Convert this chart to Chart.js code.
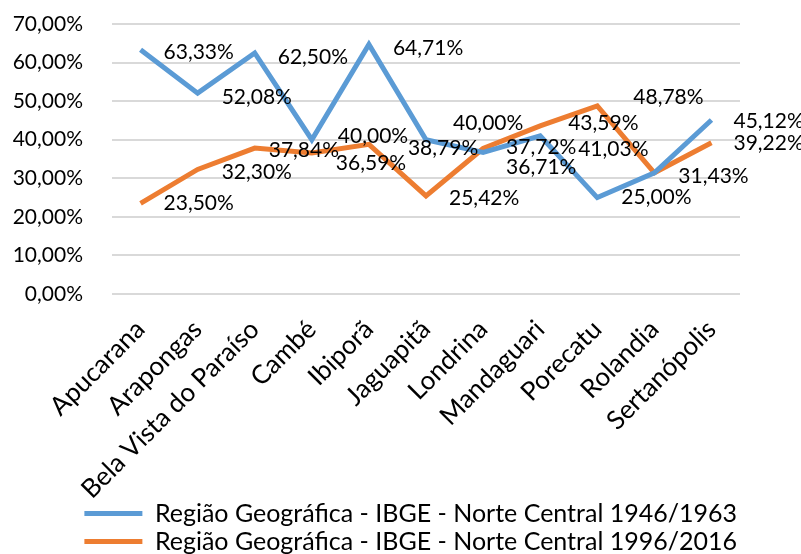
<!DOCTYPE html>
<html>
<head>
<meta charset="utf-8">
<script src="https://cdn.jsdelivr.net/npm/chart.js@4"></script>
<style>
  html, body { margin: 0; padding: 0; background: #fff; }
  #wrap { width: 801px; height: 554px; }
</style>
</head>
<body>
<div id="wrap"><canvas id="chart"></canvas></div>
<script>
// Municípios da Região Norte Central
const municipios = ['Apucarana', 'Arapongas', 'Bela Vista do Paraíso', 'Cambé', 'Ibiporã',
    'Jaguapitã', 'Londrina', 'Mandaguari', 'Porecatu', 'Rolandia', 'Sertanópolis'];

// Percentuais por período
const serie1946 = [63.33, 52.08, 62.50, 40.00, 64.71, 40.00, 36.71, 41.03, 25.00, 31.43, 45.12];
const serie1996 = [23.50, 32.30, 37.84, 36.59, 38.79, 25.42, 37.72, 43.59, 48.78, 31.43, 39.22];

const nomesSeries = [
    'Região Geográfica - IBGE - Norte Central 1946/1963',
    'Região Geográfica - IBGE - Norte Central 1996/2016'
];

const yMin = 0;
const yMax = 70;
const yStep = 10;

const AZUL = '#5b9bd5';
const LARANJA = '#ed7d31';
const FONTE = 'Lato';

// Formato brasileiro: 63,33%
function fmtPct(v) {
    return Number(v).toFixed(2).replace('.', ',') + '%';
}

// Ajustes finos dos rótulos de valor (para não sobrepor as linhas)
const ajusteRotulos = [
    { dx: [0, 1, 0, 3, 1, 4, 0, 15, 1, 1, -1], dy: [0, 1, 1, -6, 1, -19, 12, 10, -3, 0, -2] },
    { dx: [0, 1, -9, 1, 16, 0, 0, 5, 13, 1, -1], dy: [-3, 0, -1, 7, 1, -1, -4, -6, -12, 0, -2] }
];

// Plugin: rótulos de valor à direita de cada ponto
const rotulosValor = {
    id: 'rotulosValor',
    afterDatasetsDraw(chart) {
        const ctx = chart.ctx;
        const jaDesenhados = new Set();
        ctx.save();
        ctx.font = '21px ' + FONTE;
        ctx.fillStyle = '#000';
        ctx.textAlign = 'left';
        ctx.textBaseline = 'middle';
        chart.data.datasets.forEach((ds, di) => {
            const meta = chart.getDatasetMeta(di);
            const aj = ajusteRotulos[di];
            meta.data.forEach((pt, i) => {
                const txt = fmtPct(ds.data[i]);
                // mesmo valor no mesmo município: escreve uma vez só
                if (jaDesenhados.has(i + '|' + txt)) return;
                jaDesenhados.add(i + '|' + txt);
                ctx.fillText(txt, pt.x + 23 + aj.dx[i], pt.y + 3 + aj.dy[i]);
            });
        });
        ctx.restore();
    }
};

const ctx = document.getElementById('chart').getContext('2d');

new Chart(ctx, {
    type: 'line',
    data: {
        labels: municipios,
        datasets: [
            {
                label: nomesSeries[0],
                data: serie1946,
                borderColor: AZUL,
                backgroundColor: AZUL,
                borderWidth: 5,
                pointRadius: 0,
                tension: 0
            },
            {
                label: nomesSeries[1],
                data: serie1996,
                borderColor: LARANJA,
                backgroundColor: LARANJA,
                borderWidth: 5,
                pointRadius: 0,
                tension: 0
            }
        ]
    },
    options: {
        responsive: true,
        maintainAspectRatio: false,
        animation: false,
        layout: {
            padding: { top: 24, right: 61, bottom: -10, left: 0 }
        },
        plugins: {
            legend: {
                position: 'bottom',
                align: 'end',
                labels: {
                    color: '#000',
                    font: { family: FONTE, size: 25, lineHeight: 1 },
                    boxWidth: 58,
                    boxHeight: 5,
                    padding: 3,
                    generateLabels(chart) {
                        return chart.data.datasets.map((ds, i) => ({
                            text: ds.label,
                            fillStyle: ds.borderColor,
                            strokeStyle: ds.borderColor,
                            lineWidth: 0,
                            fontColor: '#000',
                            hidden: false,
                            datasetIndex: i
                        }));
                    }
                }
            },
            tooltip: { enabled: false }
        },
        scales: {
            x: {
                offset: true,
                grid: { display: false },
                border: { display: false },
                ticks: {
                    autoSkip: false,
                    minRotation: 45,
                    maxRotation: 45,
                    color: '#000',
                    font: { family: FONTE, size: 26 },
                    padding: 12
                },
                afterFit(scale) {
                    scale.height = 204;
                }
            },
            y: {
                min: yMin,
                max: yMax,
                border: { display: false },
                grid: {
                    color: '#d9d9d9',
                    lineWidth: 2,
                    drawTicks: true,
                    tickLength: 26,
                    tickColor: 'rgba(0,0,0,0)'
                },
                ticks: {
                    stepSize: yStep,
                    color: '#000',
                    font: { family: FONTE, size: 21 },
                    padding: 3,
                    callback: v => fmtPct(v)
                },
                afterFit(scale) {
                    scale.width = 112;
                }
            }
        }
    },
    plugins: [rotulosValor]
});
</script>
</body>
</html>
